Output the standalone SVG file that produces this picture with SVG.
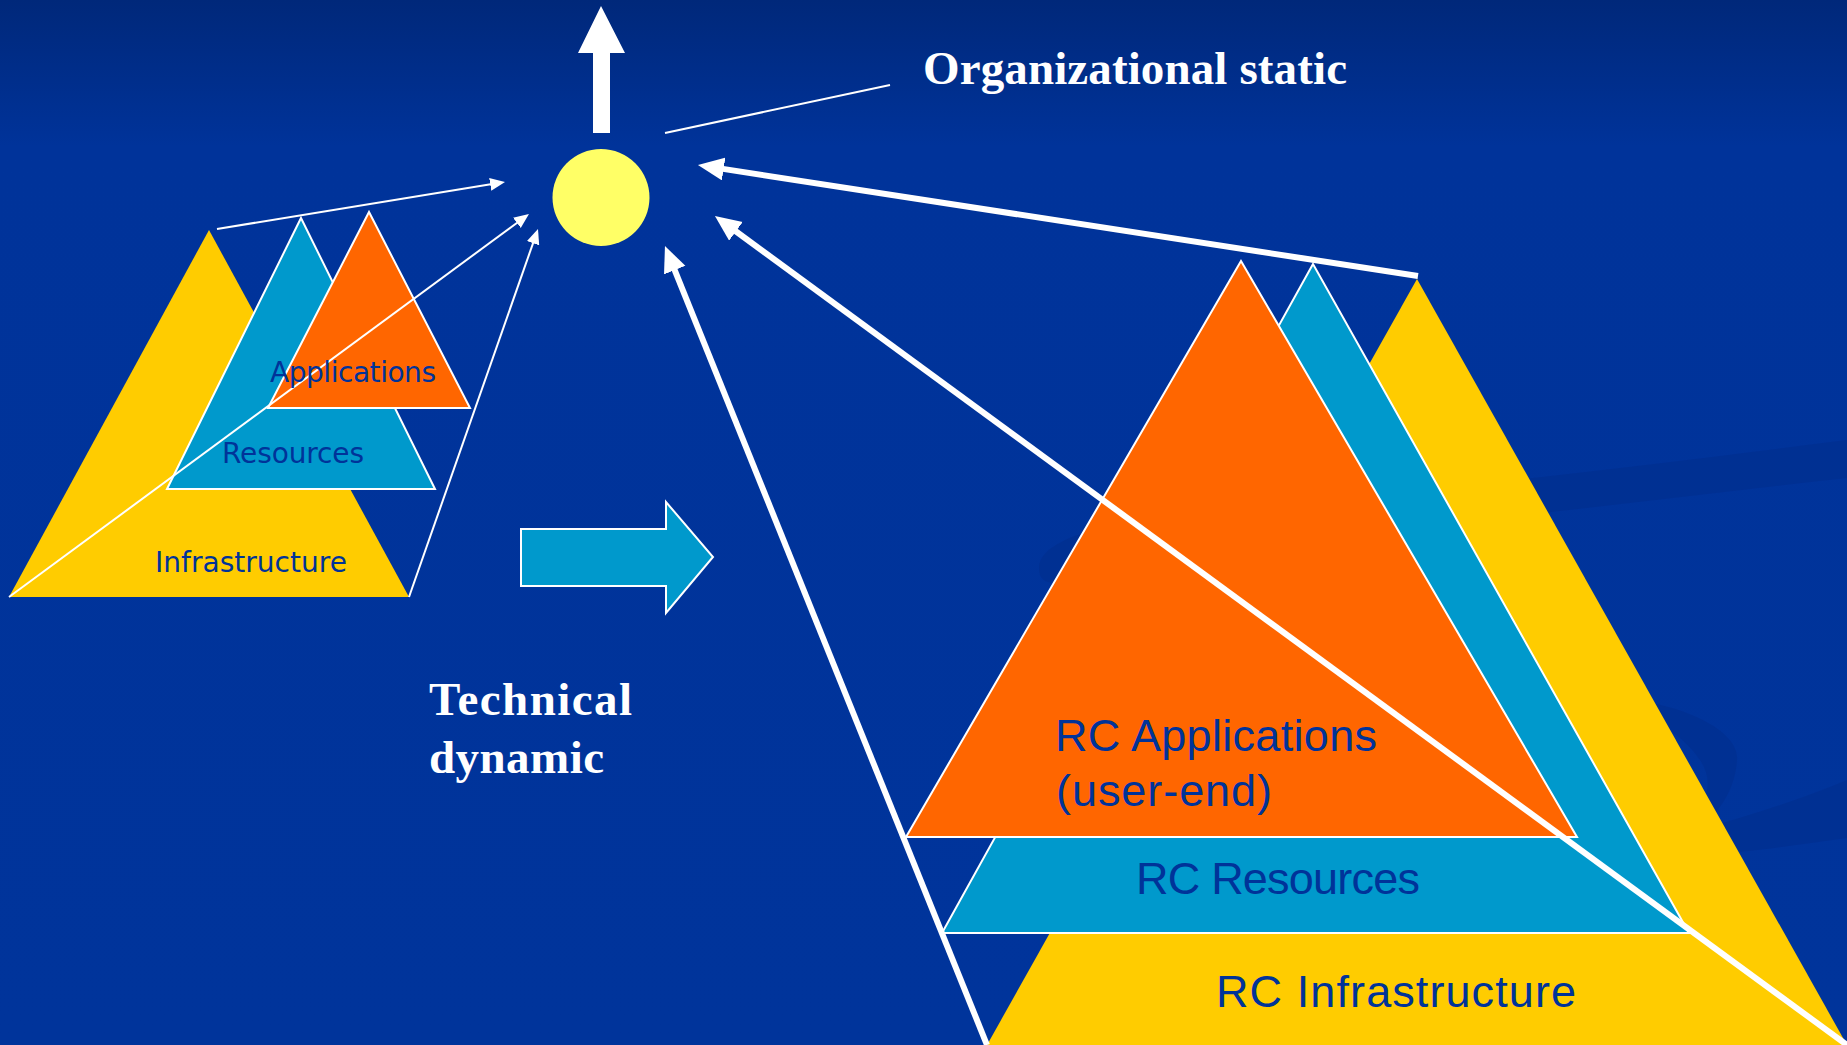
<svg xmlns="http://www.w3.org/2000/svg" width="1847" height="1045" viewBox="0 0 1847 1045">
  <defs>
    <linearGradient id="bg" x1="0" y1="0" x2="0" y2="1045" gradientUnits="userSpaceOnUse">
      <stop offset="0" stop-color="#00287a"/>
      <stop offset="0.14" stop-color="#00339a"/>
      <stop offset="1" stop-color="#00349b"/>
    </linearGradient>
    <marker id="thinHead" markerUnits="userSpaceOnUse" markerWidth="16" markerHeight="14" refX="2" refY="6.5" orient="auto">
      <path d="M0,0 L15,6.5 L0,13 z" fill="#ffffff"/>
    </marker>
    <marker id="thickHead" markerUnits="userSpaceOnUse" markerWidth="28" markerHeight="24" refX="4" refY="11.5" orient="auto">
      <path d="M0,0 L26,11.5 L0,23 z" fill="#ffffff"/>
    </marker>
    <style>
      .yellow { fill: #ffcc00; }
      .blue { fill: #0099cc; stroke: #ffffff; stroke-width: 2; stroke-linejoin: miter; }
      .orange { fill: #ff6600; stroke: #ffffff; stroke-width: 2; }
      .lbl-small { font-family: "DejaVu Sans", Verdana, sans-serif; font-size: 28px; fill: #003399; }
      .lbl-big { font-family: "Liberation Sans", Arial, sans-serif; font-size: 45px; fill: #003399; }
      .title { font-family: "Liberation Serif", "Times New Roman", serif; font-size: 47px; font-weight: bold; fill: #ffffff; }
      .thin { stroke: #ffffff; stroke-width: 2; fill: none; }
      .thick { stroke: #ffffff; stroke-width: 6; fill: none; }
      .swoosh { fill: #002e8c; opacity: 0.55; }
    </style>
  </defs>

  <rect x="0" y="0" width="1847" height="1045" fill="url(#bg)"/>

  <g id="background-decoration">
    <path class="swoosh" d="M1040,575 C1030,540 1100,520 1250,505 C1450,490 1650,465 1847,440 L1847,478 C1650,500 1450,525 1250,545 C1120,560 1050,600 1040,575 z"/>
    <path class="swoosh" d="M1600,697 C1680,700 1740,730 1737,760 C1735,790 1720,810 1700,830 C1750,815 1800,800 1847,780 L1847,838 C1760,850 1700,860 1650,850 C1700,820 1720,790 1700,760 C1680,730 1640,710 1600,697 z"/>
  </g>

  <g id="node-small-infrastructure">
    <polygon class="yellow" points="209,230 9,597 409,597"/>
  </g>
  <g id="node-small-resources">
    <polygon class="blue" points="301,218 167,489 435,489"/>
  </g>
  <g id="node-small-applications">
    <polygon class="orange" points="369,212 268,408 470,408"/>
  </g>

  <g id="node-big-infrastructure">
    <polygon class="yellow" points="1417,279 987,1045 1847,1045"/>
  </g>
  <g id="node-big-resources">
    <polygon class="blue" points="1313,264 942,933 1689,933"/>
  </g>
  <g id="node-big-applications">
    <polygon class="orange" points="1241,261 906,837 1577,837"/>
  </g>

  <g id="node-organization">
    <circle cx="601" cy="197.5" r="48.5" fill="#ffff66"/>
    <polygon points="601,6 625,53 610,53 610,133 593,133 593,53 578,53" fill="#ffffff"/>
  </g>

  <g id="node-transition-arrow">
    <polygon points="521,529 666,529 666,502 713,557 666,613 666,586 521,586" fill="#0099cc" stroke="#ffffff" stroke-width="2"/>
  </g>

  <g id="connectors">
    <line class="thin" x1="217" y1="229" x2="492.2" y2="184.1" marker-end="url(#thinHead)"/>
    <line class="thin" x1="9" y1="597" x2="518.5" y2="221.7" marker-end="url(#thinHead)"/>
    <line class="thin" x1="409" y1="597" x2="533.7" y2="241.3" marker-end="url(#thinHead)"/>
    <line class="thin" x1="665" y1="133" x2="890" y2="85"/>
    <line class="thick" x1="1418" y1="276" x2="719.7" y2="168.4" marker-end="url(#thickHead)"/>
    <line class="thick" x1="1847" y1="1045" x2="732.7" y2="229" marker-end="url(#thickHead)"/>
    <line class="thick" x1="987" y1="1045" x2="673.2" y2="266.4" marker-end="url(#thickHead)"/>
  </g>

  <g id="labels">
    <text class="lbl-small" x="270" y="382" textLength="166">Applications</text>
    <text class="lbl-small" x="222" y="463" textLength="142">Resources</text>
    <text class="lbl-small" x="155" y="572" textLength="192">Infrastructure</text>
    <text class="lbl-big" x="1055" y="751" textLength="322">RC Applications</text>
    <text class="lbl-big" x="1056" y="806" textLength="216">(user-end)</text>
    <text class="lbl-big" x="1136" y="894" textLength="284">RC Resources</text>
    <text class="lbl-big" x="1216" y="1007" textLength="360">RC Infrastructure</text>
    <text class="title" x="923" y="84" textLength="424">Organizational static</text>
    <text class="title" x="429" y="715" textLength="203">Technical</text>
    <text class="title" x="429" y="773" textLength="175">dynamic</text>
  </g>
</svg>
